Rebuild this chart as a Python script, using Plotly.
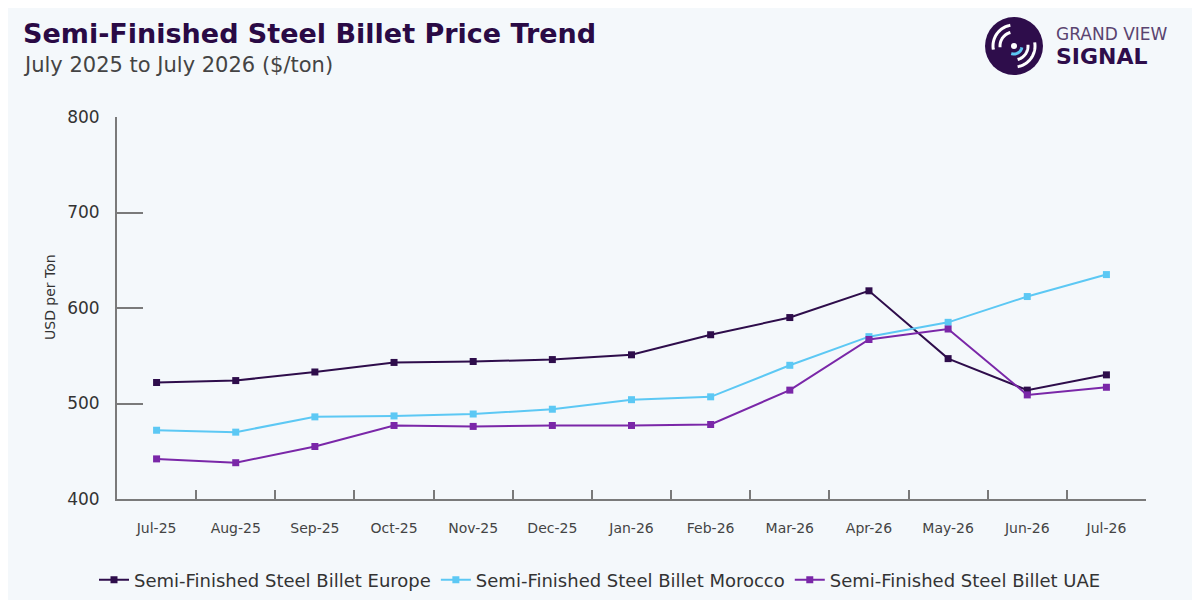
import math
import plotly.graph_objects as go

months = ["Jul-25", "Aug-25", "Sep-25", "Oct-25", "Nov-25", "Dec-25", "Jan-26",
          "Feb-26", "Mar-26", "Apr-26", "May-26", "Jun-26", "Jul-26"]
europe = [522, 524, 533, 543, 544, 546, 551, 572, 590, 618, 547, 514, 530]
morocco = [472, 470, 486, 487, 489, 494, 504, 507, 540, 570, 585, 612, 635]
uae = [442, 438, 455, 477, 476, 477, 477, 478, 514, 567, 578, 509, 517]

series = [
    ("Semi-Finished Steel Billet Europe", europe, "#2e0d4b"),
    ("Semi-Finished Steel Billet Morocco", morocco, "#5cc8f4"),
    ("Semi-Finished Steel Billet UAE", uae, "#7a27a8"),
]

# page body adds ~8px offset, so the figure is a bit smaller
OFF = 8
W, H = 1200 - OFF, 600 - OFF
ML, MR, MT, MB = 117 - OFF, 54, 117 - OFF, 101
PW, PH = W - ML - MR, H - MT - MB


# screen pixel -> paper coordinates
def fx(px):
    return (px - OFF - ML) / PW


def fy(py):
    return (H - MB - (py - OFF)) / PH


fig = go.Figure()
for name, vals, col in series:
    fig.add_trace(go.Scatter(
        x=months, y=vals, name=name, mode="lines+markers",
        line=dict(color=col, width=2),
        marker=dict(symbol="square", size=7, color=col),
    ))

axis_col = "#7a7a7a"
fig.update_layout(
    width=W, height=H,
    paper_bgcolor="#f4f8fb", plot_bgcolor="#f4f8fb",
    margin=dict(l=ML, r=MR, t=MT, b=MB, autoexpand=False),
    font=dict(family="DejaVu Sans, sans-serif", color="#333333", size=13),
    showlegend=True,
    legend=dict(orientation="h", x=fx(600), xanchor="center",
                y=fy(580), yanchor="middle", font=dict(size=18, color="#333333"),
                bgcolor="rgba(0,0,0,0)"),
    xaxis=dict(
        type="category", range=[-0.5, 12.5], tickson="boundaries",
        ticks="inside", ticklen=9, tickwidth=1.5, tickcolor=axis_col,
        showline=True, linecolor=axis_col, linewidth=2, showgrid=False,
        zeroline=False, tickfont=dict(size=14, color="#444444"),
        ticklabelstandoff=15,
    ),
    yaxis=dict(
        range=[400, 800], dtick=100, ticks="inside", ticklen=26, tickwidth=2,
        tickcolor=axis_col, showline=True, linecolor=axis_col, linewidth=2,
        showgrid=False, zeroline=False, tickfont=dict(size=17, color="#333333"),
        ticklabelstandoff=12,
    ),
)

# y axis title
fig.add_annotation(text="USD per Ton", xref="paper", yref="paper",
                   x=fx(50), y=fy(297), textangle=-90, showarrow=False,
                   xanchor="center", yanchor="middle",
                   font=dict(size=14, color="#333333"))

# title block
fig.add_annotation(text="<b>Semi-Finished Steel Billet Price Trend</b>",
                   xref="paper", yref="paper", x=fx(21), y=fy(33),
                   xanchor="left", yanchor="middle", showarrow=False,
                   font=dict(size=27, color="#2a0a45"))
fig.add_annotation(text="July 2025 to July 2026 ($/ton)",
                   xref="paper", yref="paper", x=fx(21), y=fy(65),
                   xanchor="left", yanchor="middle", showarrow=False,
                   font=dict(size=21, color="#444444"))

# logo
cx, cy, r = 1014, 46, 29
fig.add_shape(type="circle", xref="paper", yref="paper",
              x0=fx(cx - r), x1=fx(cx + r), y0=fy(cy + r), y1=fy(cy - r),
              fillcolor="#2e0d4b", line=dict(width=0), layer="above")


def arc_path(rad, a0, a1, n=24):
    pts = []
    for i in range(n + 1):
        a = math.radians(a0 + (a1 - a0) * i / n)
        pts.append((fx(cx + rad * math.cos(a)), fy(cy - rad * math.sin(a))))
    d = "M %f,%f" % pts[0]
    for p in pts[1:]:
        d += " L %f,%f" % p
    return d


for rad, a0, a1, col in [(21, 100, 190, "white"), (14, 105, 185, "white"),
                         (21, 280, 370, "white"), (14, 285, 365, "white"),
                         (8, 250, 350, "#5cc8f4")]:
    fig.add_shape(type="path", xref="paper", yref="paper", path=arc_path(rad, a0, a1),
                  line=dict(color=col, width=3), layer="above")
fig.add_shape(type="circle", xref="paper", yref="paper",
              x0=fx(cx - 3), x1=fx(cx + 3), y0=fy(cy + 3), y1=fy(cy - 3),
              fillcolor="white", line=dict(width=0), layer="above")

fig.add_annotation(text="GRAND VIEW", xref="paper", yref="paper",
                   x=fx(1054), y=fy(34), xanchor="left", yanchor="middle",
                   showarrow=False, font=dict(size=17, color="#5a4470"))
fig.add_annotation(text="<b>SIGNAL</b>", xref="paper", yref="paper",
                   x=fx(1054), y=fy(57), xanchor="left", yanchor="middle",
                   showarrow=False, font=dict(size=22, color="#2e0d4b"))

# thin border on the right side
fig.add_shape(type="line", xref="paper", yref="paper",
              x0=fx(1197), x1=fx(1197), y0=fy(OFF), y1=fy(600),
              line=dict(color="#c8c8c8", width=2), layer="below")

fig.write_html("out.html")
